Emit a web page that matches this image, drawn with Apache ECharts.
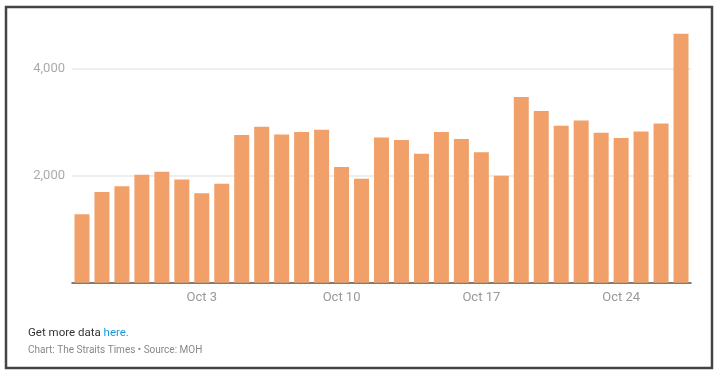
<!DOCTYPE html>
<html>
<head>
<meta charset="utf-8">
<script src="https://cdn.jsdelivr.net/npm/echarts@6/dist/echarts.min.js"></script>
<style>
html,body{margin:0;padding:0;background:#fff;}
#chart{width:718px;height:374px;}
</style>
</head>
<body>
<div id="chart"></div>
<script>
const categories = ['Sep 27','Sep 28','Sep 29','Sep 30','Oct 1','Oct 2','Oct 3','Oct 4','Oct 5','Oct 6','Oct 7','Oct 8','Oct 9','Oct 10','Oct 11','Oct 12','Oct 13','Oct 14','Oct 15','Oct 16','Oct 17','Oct 18','Oct 19','Oct 20','Oct 21','Oct 22','Oct 23','Oct 24','Oct 25','Oct 26','Oct 27'];
const cases = [1278,1695,1802,2018,2075,1932,1671,1850,2761,2916,2773,2816,2860,2162,1944,2717,2667,2411,2816,2686,2437,2000,3471,3209,2934,3035,2803,2704,2829,2979,4654];
const shownLabels = ['Oct 3','Oct 10','Oct 17','Oct 24'];
const yTicks = [2000,4000];

const chart = echarts.init(document.getElementById('chart'));
const FONT = 'Roboto';
chart.setOption({
  animation:false,
  grid:{left:72,right:27,top:26,bottom:91.3},
  xAxis:{
    type:'category',
    data:categories,
    axisLine:{lineStyle:{color:'#555',width:1.5}},
    axisTick:{show:false},
    axisLabel:{
      interval:function(i,v){return shownLabels.indexOf(v)>=0;},
      color:'#999',fontFamily:FONT,fontSize:13,margin:9
    }
  },
  yAxis:{
    type:'value',min:0,max:4800,interval:2000,
    axisLine:{show:false},axisTick:{show:false},
    axisLabel:{
      showMaxLabel:false,
      formatter:function(v){return yTicks.indexOf(v)>=0 ? v.toLocaleString('en-US') : '';},
      color:'#aaa',fontFamily:FONT,fontSize:13,margin:7
    },
    splitLine:{showMaxLine:false,lineStyle:{color:'#e8e8e8',width:1.5}}
  },
  series:[{
    type:'bar',data:cases,barCategoryGap:'25%',
    itemStyle:{color:'#f0a068'}
  }],
  graphic:[
    {type:'rect',shape:{x:6,y:7,width:706,height:361},style:{fill:'none',stroke:'#444',lineWidth:2.5},silent:true},
    {type:'text',left:28,top:327,style:{
      text:'{a|Get more data }{b|here.}',
      rich:{
        a:{fill:'#333',fontFamily:FONT,fontSize:11.5},
        b:{fill:'#1a9be0',fontFamily:FONT,fontSize:11.5}
      }
    }},
    {type:'text',left:28,top:345,style:{text:'Chart: The Straits Times • Source: MOH',fill:'#888',fontFamily:FONT,fontSize:10}}
  ]
});
</script>
</body>
</html>
